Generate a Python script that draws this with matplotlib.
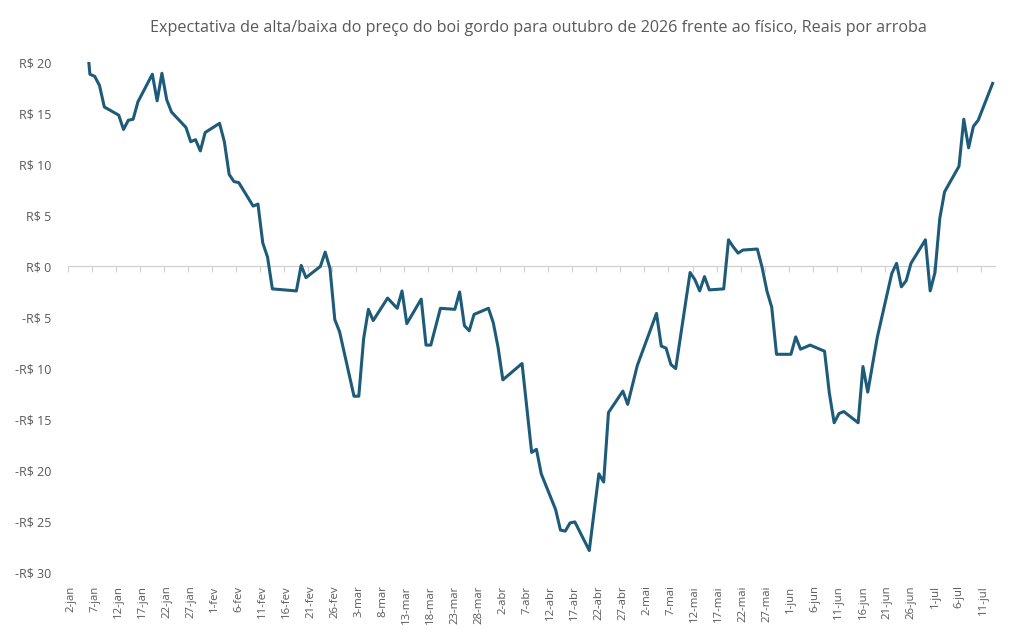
import numpy as np
import matplotlib
matplotlib.use("Agg")
import matplotlib.pyplot as plt

plt.rcParams['font.family'] = ['Open Sans', 'DejaVu Sans']

# dados (dias uteis, 2026)
datas = ["2026-01-05", "2026-01-06", "2026-01-07", "2026-01-08", "2026-01-09",
         "2026-01-12", "2026-01-13", "2026-01-14", "2026-01-15", "2026-01-16",
         "2026-01-19", "2026-01-20", "2026-01-21", "2026-01-22", "2026-01-23",
         "2026-01-26", "2026-01-27", "2026-01-28", "2026-01-29", "2026-01-30",
         "2026-02-02", "2026-02-03", "2026-02-04", "2026-02-05", "2026-02-06",
         "2026-02-09", "2026-02-10", "2026-02-11", "2026-02-12", "2026-02-13",
         "2026-02-18", "2026-02-19", "2026-02-20",
         "2026-02-23", "2026-02-24", "2026-02-25", "2026-02-26", "2026-02-27",
         "2026-03-02", "2026-03-03", "2026-03-04", "2026-03-05", "2026-03-06",
         "2026-03-09", "2026-03-10", "2026-03-11", "2026-03-12", "2026-03-13",
         "2026-03-16", "2026-03-17", "2026-03-18", "2026-03-19", "2026-03-20",
         "2026-03-23", "2026-03-24", "2026-03-25", "2026-03-26", "2026-03-27",
         "2026-03-30", "2026-03-31", "2026-04-01", "2026-04-02",
         "2026-04-06", "2026-04-07", "2026-04-08", "2026-04-09", "2026-04-10",
         "2026-04-13", "2026-04-14", "2026-04-15", "2026-04-16", "2026-04-17",
         "2026-04-20", "2026-04-22", "2026-04-23", "2026-04-24",
         "2026-04-27", "2026-04-28", "2026-04-29", "2026-04-30",
         "2026-05-04", "2026-05-05", "2026-05-06", "2026-05-07", "2026-05-08",
         "2026-05-11", "2026-05-12", "2026-05-13", "2026-05-14", "2026-05-15",
         "2026-05-18", "2026-05-19", "2026-05-20", "2026-05-21", "2026-05-22",
         "2026-05-25", "2026-05-26", "2026-05-27", "2026-05-28", "2026-05-29",
         "2026-06-01", "2026-06-02", "2026-06-03", "2026-06-05",
         "2026-06-08", "2026-06-09", "2026-06-10", "2026-06-11", "2026-06-12",
         "2026-06-15", "2026-06-16", "2026-06-17", "2026-06-18", "2026-06-19",
         "2026-06-22", "2026-06-23", "2026-06-24", "2026-06-25", "2026-06-26",
         "2026-06-29", "2026-06-30", "2026-07-01", "2026-07-02", "2026-07-03",
         "2026-07-06", "2026-07-07", "2026-07-08", "2026-07-09", "2026-07-10",
         "2026-07-13"]

valores = [24.0, 18.8, 18.6, 17.7, 15.6,
           14.8, 13.4, 14.3, 14.4, 16.1,
           18.8, 16.2, 18.9, 16.3, 15.1,
           13.6, 12.2, 12.4, 11.3, 13.1,
           14.0, 12.2, 9.0, 8.3, 8.2,
           5.9, 6.1, 2.3, 0.9, -2.2,
           -2.4, 0.1, -1.1,
           0.0, 1.4, -0.2, -5.2, -6.4,
           -12.7, -12.7, -7.1, -4.2, -5.3,
           -3.1, -3.6, -4.1, -2.4, -5.6,
           -3.2, -7.7, -7.7, -5.9, -4.1,
           -4.2, -2.5, -5.8, -6.3, -4.7,
           -4.1, -5.5, -7.9, -11.1,
           -9.5, -13.8, -18.2, -17.9, -20.3,
           -23.8, -25.8, -25.9, -25.1, -25.0,
           -27.8, -20.3, -21.1, -14.3,
           -12.2, -13.5, -11.6, -9.7,
           -4.6, -7.8, -8.0, -9.6, -10.0,
           -0.6, -1.3, -2.4, -1.0, -2.3,
           -2.2, 2.6, 1.9, 1.3, 1.6,
           1.7, -0.1, -2.4, -4.0, -8.6,
           -8.6, -6.9, -8.1, -7.7,
           -8.3, -12.4, -15.3, -14.4, -14.2,
           -15.3, -9.8, -12.3, -9.6, -6.9,
           -0.7, 0.3, -2.0, -1.4, 0.3,
           2.6, -2.4, -0.6, 4.7, 7.3,
           9.8, 14.4, 11.6, 13.7, 14.3,
           17.9]

meses = ["jan", "fev", "mar", "abr", "mai", "jun", "jul"]
inicio = np.datetime64("2026-01-02")
fim = np.datetime64("2026-07-13")

titulo = "Expectativa de alta/baixa do preço do boi gordo para outubro de 2026 frente ao físico, Reais por arroba"

cinza = "#595959"
cinza_eixo = "#d0d0d0"
cor_linha = "#1d5b79"

x = (np.array(datas, dtype="datetime64[D]") - inicio).astype(int)
n_dias = int((fim - inicio).astype(int))

fig = plt.figure(figsize=(10.11, 6.29), dpi=100)
ax = fig.add_axes([68.3 / 1011, 1 - 573 / 629, (995 - 68.3) / 1011, (573 - 62) / 629])

ax.plot(x, valores, color=cor_linha, lw=2.2, solid_joinstyle="round", zorder=3)

ax.set_xlim(-0.5, n_dias + 0.5)
ax.set_ylim(-30, 20)
ax.set_yticks(np.arange(-30, 21, 5))
ax.set_yticklabels([("-R$ %d" % -v) if v < 0 else ("R$ %d" % v) for v in range(-30, 21, 5)])
ax.tick_params(axis="y", length=0, pad=12, labelsize=9, labelcolor=cinza)

for s in ax.spines.values():
    s.set_visible(False)

# eixo horizontal no zero, marcas entre as datas
pos = np.arange(0, n_dias + 1, 5)
ax.spines["bottom"].set_visible(True)
ax.spines["bottom"].set_position(("data", 0))
ax.spines["bottom"].set_color(cinza_eixo)
ax.spines["bottom"].set_linewidth(0.9)
ax.set_xticks(pos - 0.5)
ax.set_xticklabels([])
ax.tick_params(axis="x", length=4, width=0.8, color=cinza_eixo, direction="out")

# rotulos das datas no rodape, a cada 5 dias
rot = []
for p in pos:
    d = (inicio + np.timedelta64(int(p), "D")).astype(object)
    rot.append("%d-%s" % (d.day, meses[d.month - 1]))
rodape = ax.secondary_xaxis("bottom")
rodape.set_xticks(pos)
rodape.set_xticklabels(rot, rotation=90, va="top", ha="center")
rodape.tick_params(axis="x", length=0, pad=9, labelsize=8.2, labelcolor=cinza)
for s in rodape.spines.values():
    s.set_visible(False)

fig.text(538 / 1011, 1 - 28 / 629, titulo, ha="center", va="center", fontsize=11.6, color=cinza)

fig.savefig("out.png", dpi=100, facecolor="white")
